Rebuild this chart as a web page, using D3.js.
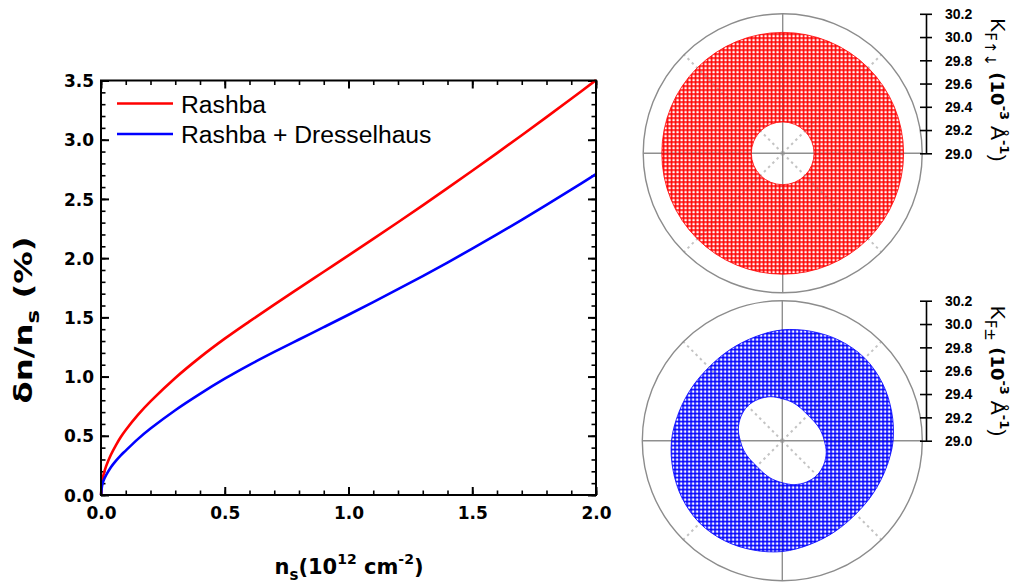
<!DOCTYPE html>
<html><head><meta charset="utf-8">
<script src="https://cdn.jsdelivr.net/npm/d3@7"></script>
<style>body{margin:0;background:#fff}svg{display:block}</style>
</head><body><svg id="c" width="1021" height="584"></svg>
<script>
// ---- data: left panel ----
const nsValues = [0, 0.005, 0.01, 0.02, 0.04, 0.06, 0.08, 0.1, 0.15, 0.2, 0.3, 0.4, 0.5, 0.6, 0.7, 0.8, 0.9, 1.0, 1.1, 1.2, 1.3, 1.4, 1.5, 1.6, 1.7, 1.8, 1.9, 2.0];
const rashba = [0, 0.120, 0.170, 0.240, 0.340, 0.420, 0.490, 0.549, 0.678, 0.790, 0.988, 1.162, 1.320, 1.466, 1.608, 1.747, 1.885, 2.023, 2.162, 2.303, 2.446, 2.591, 2.738, 2.887, 3.038, 3.191, 3.346, 3.503];
const rashbaDresselhaus = [0, 0.085, 0.120, 0.165, 0.235, 0.288, 0.335, 0.375, 0.474, 0.561, 0.716, 0.854, 0.982, 1.099, 1.208, 1.313, 1.417, 1.522, 1.629, 1.738, 1.849, 1.963, 2.080, 2.200, 2.323, 2.449, 2.578, 2.710];
const seriesNames = ["Rashba", "Rashba + Dresselhaus"];
const xTicks = [0, 0.5, 1.0, 1.5, 2.0];
const yTicks = [0, 0.5, 1.0, 1.5, 2.0, 2.5, 3.0, 3.5];

// ---- data: polar panels (k in 10^-3 1/Angstrom, angle in degrees CCW from +x) ----
const kRashba = [29.27, 30.04];              // k_F-up (inner), k_F-down (outer)
const polarAngles = [0,15,30,45,60,75,90,105,120,135,150,165,180,195,210,225,240,255,270,285,300,315,330,345];
const kRDInner = [29.36,29.34,29.32,29.31,29.32,29.34,29.36,29.39,29.41,29.42,29.41,29.39,29.36,29.34,29.32,29.31,29.32,29.34,29.36,29.39,29.41,29.42,29.41,29.39];
const kRDOuter = [29.95,29.97,29.99,30.00,29.99,29.97,29.95,29.92,29.90,29.89,29.90,29.92,29.95,29.97,29.99,30.00,29.99,29.97,29.95,29.92,29.90,29.89,29.90,29.92];
const radialTicks = [29.0, 29.2, 29.4, 29.6, 29.8, 30.0, 30.2];
const gridAngles = [0, 90, 180, 270];
const diagAngles = [45, 135, 225, 315];

const svg = d3.select("#c");
const defs = svg.append("defs");
function hatch(id, color){
  const p = defs.append("pattern").attr("id", id).attr("width", 4).attr("height", 4)
    .attr("patternUnits", "userSpaceOnUse");
  p.append("rect").attr("x",0).attr("y",0).attr("width",4).attr("height",1.6).attr("fill",color);
  p.append("rect").attr("x",0).attr("y",0).attr("width",1.6).attr("height",4).attr("fill",color);
}
hatch("hr", "#ff0000");
hatch("hb", "#0000ff");

// ---- left panel ----
const L = 101, R = 596, T = 80.5, B = 495;
const x = d3.scaleLinear().domain([0, 2]).range([L, R]);
const y = d3.scaleLinear().domain([0, 3.5]).range([B, T]);
const minorX = d3.range(0, 21).map(i => i / 10);
const minorY = d3.range(0, 36).map(i => i / 10);
const tickFont = "'DejaVu Sans', sans-serif";
const sansFont = "'Liberation Sans', Arial, sans-serif";

function styleAxis(g){
  g.select(".domain").remove();
  g.selectAll(".tick line").attr("stroke", "#000").attr("stroke-width", 2);
  g.selectAll("text").attr("font-family", tickFont).attr("font-weight", "bold")
    .attr("font-size", 17).attr("fill", "#000");
}
function minor(g, w){ g.select(".domain").remove(); g.selectAll("line").attr("stroke","#000").attr("stroke-width",w); }
const gxB = svg.append("g").attr("transform", `translate(0,${B})`)
  .call(d3.axisBottom(x).tickValues(xTicks).tickSize(-8).tickPadding(12).tickFormat(d3.format(".1f")));
styleAxis(gxB);
svg.append("g").attr("transform", `translate(0,${B})`)
  .call(d3.axisBottom(x).tickValues(minorX).tickSize(-4.5).tickFormat("")).call(g => minor(g, 1.6));
svg.append("g").attr("transform", `translate(0,${T})`)
  .call(d3.axisTop(x).tickValues(xTicks).tickSize(-8).tickFormat("")).call(g => minor(g, 2));
svg.append("g").attr("transform", `translate(0,${T})`)
  .call(d3.axisTop(x).tickValues(minorX).tickSize(-4.5).tickFormat("")).call(g => minor(g, 1.6));
const gyL = svg.append("g").attr("transform", `translate(${L},0)`)
  .call(d3.axisLeft(y).tickValues(yTicks).tickSize(-8).tickPadding(7).tickFormat(d3.format(".1f")));
styleAxis(gyL);
gyL.selectAll("text").attr("dy", "0.36em");
svg.append("g").attr("transform", `translate(${L},0)`)
  .call(d3.axisLeft(y).tickValues(minorY).tickSize(-4.5).tickFormat("")).call(g => minor(g, 1.6));
svg.append("g").attr("transform", `translate(${R},0)`)
  .call(d3.axisRight(y).tickValues(yTicks).tickSize(-8).tickFormat("")).call(g => minor(g, 2));
svg.append("g").attr("transform", `translate(${R},0)`)
  .call(d3.axisRight(y).tickValues(minorY).tickSize(-4.5).tickFormat("")).call(g => minor(g, 1.6));

// curves
const line = d3.line().curve(d3.curveCatmullRom.alpha(0.5));
const cols = ["#ff0000", "#0000ff"];
[rashba, rashbaDresselhaus].forEach((s, i) => {
  svg.append("path")
    .attr("d", line(nsValues.map((v, j) => [x(v), y(s[j])])))
    .attr("fill", "none").attr("stroke", cols[i]).attr("stroke-width", 2.6);
});
svg.append("rect").attr("x", L).attr("y", T).attr("width", R - L).attr("height", B - T)
  .attr("fill", "none").attr("stroke", "#000").attr("stroke-width", 2);

// legend
seriesNames.forEach((n, i) => {
  const ly = 103.5 + i * 30.5;
  svg.append("line").attr("x1", 117).attr("x2", 173).attr("y1", ly).attr("y2", ly)
    .attr("stroke", cols[i]).attr("stroke-width", 2.6);
  svg.append("text").attr("x", 181).attr("y", ly + 9).text(n)
    .attr("font-family", sansFont).attr("font-size", 24.7).attr("fill", "#000");
});

// axis titles
const xt = svg.append("text").attr("x", 349).attr("y", 574).attr("text-anchor", "middle")
  .attr("font-family", tickFont).attr("font-weight", "bold").attr("font-size", 21).attr("fill", "#000");
xt.append("tspan").text("n");
xt.append("tspan").attr("dy", 6).attr("font-size", 15).text("s");
xt.append("tspan").attr("dy", -6).text("(10");
xt.append("tspan").attr("dy", -10).attr("font-size", 14).text("12");
xt.append("tspan").attr("dy", 10).text(" cm");
xt.append("tspan").attr("dy", -10).attr("font-size", 14).text("-2");
xt.append("tspan").attr("dy", 10).text(")");

const yt = svg.append("text").attr("transform", "translate(32,320) rotate(-90) scale(1.35,1)").attr("text-anchor", "middle")
  .attr("font-family", tickFont).attr("font-weight", "bold").attr("font-size", 24).attr("fill", "#000");
yt.append("tspan").text("δn/n");
yt.append("tspan").attr("dy", 7).attr("font-size", 17).text("s");
yt.append("tspan").attr("dy", -7).text(" (%)");

// ---- polar panels ----
function polar(cx, cy, Rpx, drawAnnulus, sub){
  const r = d3.scaleLinear().domain([29.0, 30.2]).range([0, Rpx]);
  const g = svg.append("g").attr("transform", `translate(${cx},${cy})`);
  const toRad = a => (90 - a) * Math.PI / 180;
  diagAngles.forEach(a => {
    g.append("line").attr("x1", 0).attr("y1", 0)
      .attr("x2", Rpx * Math.sin(toRad(a))).attr("y2", -Rpx * Math.cos(toRad(a)))
      .attr("stroke", "#c4c4c4").attr("stroke-width", 2).attr("stroke-dasharray", "2.5,3.5");
  });
  gridAngles.forEach(a => {
    g.append("line").attr("x1", 0).attr("y1", 0)
      .attr("x2", Rpx * Math.sin(toRad(a))).attr("y2", -Rpx * Math.cos(toRad(a)))
      .attr("stroke", "#8f8f8f").attr("stroke-width", 1.4);
  });
  g.append("circle").attr("r", r(30.2)).attr("fill", "none").attr("stroke", "#8c8c8c").attr("stroke-width", 1.4);
  drawAnnulus(g, r, toRad);
  const ry = d3.scaleLinear().domain([29.0, 30.2]).range([cy, cy - Rpx]);
  const ax = svg.append("g").attr("transform", "translate(926,0)")
    .call(d3.axisRight(ry).tickValues(radialTicks).tickSizeInner(6).tickSizeOuter(0).tickPadding(13).tickFormat(d3.format(".1f")));
  ax.select(".domain").attr("stroke", "#000").attr("stroke-width", 1.6);
  ax.selectAll(".tick line").attr("x1", -6).attr("stroke", "#000").attr("stroke-width", 1.6);
  ax.selectAll("text").attr("font-family", sansFont).attr("font-weight", "bold")
    .attr("font-size", 14).attr("fill", "#000").attr("dy", "0.34em");
  const t = svg.append("text").attr("transform", `translate(991,${cy - 135}) rotate(90)`)
    .attr("font-family", sansFont).attr("font-size", 21).attr("fill", "#000");
  t.append("tspan").text("K");
  t.append("tspan").attr("dy", 6).attr("font-family", tickFont).attr("font-size", 15).text(sub);
  t.append("tspan").attr("dy", -6).attr("font-family", tickFont).attr("font-weight", "bold").attr("font-size", 18).text(" (10");
  t.append("tspan").attr("dy", -9).attr("font-family", tickFont).attr("font-size", 13).attr("font-weight", "bold").text("-3");
  t.append("tspan").attr("dy", 9).text(" Å");
  t.append("tspan").attr("dy", -9).attr("font-family", tickFont).attr("font-size", 13).attr("font-weight", "bold").text("-1");
  t.append("tspan").attr("dy", 9).text(")");
}

polar(782.7, 153.3, 139.5, (g, r) => {
  g.append("path")
    .attr("d", d3.arc()({innerRadius: r(kRashba[0]), outerRadius: r(kRashba[1]), startAngle: 0, endAngle: 2 * Math.PI}))
    .attr("fill", "url(#hr)").attr("stroke", "#ff0000").attr("stroke-width", 0.8);
}, "F↑↓");

polar(782.3, 440.7, 140, (g, r, toRad) => {
  const rl = d3.lineRadial().curve(d3.curveCardinalClosed);
  const outer = rl(polarAngles.map((a, i) => [toRad(a), r(kRDOuter[i])]));
  const inner = rl(polarAngles.map((a, i) => [toRad(a), r(kRDInner[i])]));
  g.append("path").attr("d", outer + inner).attr("fill-rule", "evenodd")
    .attr("fill", "url(#hb)").attr("stroke", "#0000ff").attr("stroke-width", 0.8);
}, "F±");
</script></body></html>
